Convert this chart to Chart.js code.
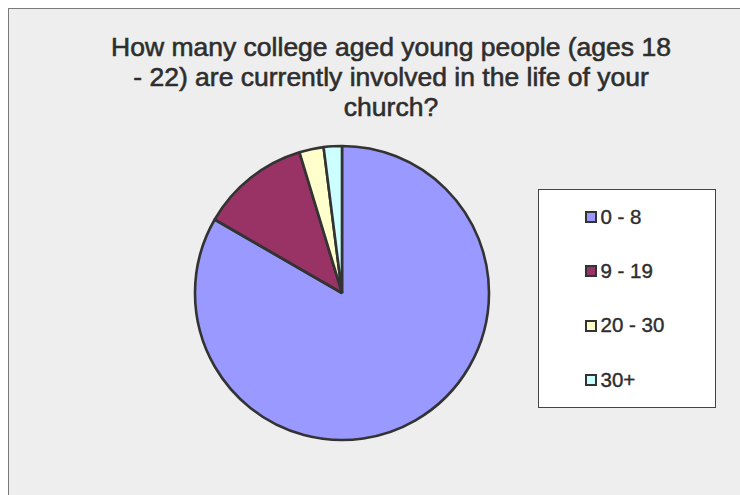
<!DOCTYPE html>
<html>
<head>
<meta charset="utf-8">
<script src="https://cdn.jsdelivr.net/npm/chart.js@4.4.6/dist/chart.umd.min.js"></script>
<style>
  html, body { margin: 0; padding: 0; background: #fff; width: 740px; height: 495px; overflow: hidden; }
  body { position: relative; font-family: "Liberation Sans", Arial, sans-serif; color: #333; }
  #frame { position: absolute; left: 8px; top: 8px; width: 760px; height: 520px; background: #eeeeee;
           border-left: 1px solid #7a7a7a; border-top: 1px solid #7a7a7a; }
  #title { position: absolute; left: 91px; width: 600px; top: 31.5px; text-align: center;
           font-size: 26.5px; line-height: 30px; white-space: nowrap; color: #2e2e2e;
           -webkit-text-stroke: 0.6px #2e2e2e; }
  #chart { position: absolute; left: 0; top: 0; }
  #legend { position: absolute; left: 538px; top: 189px; width: 176px; height: 217px; background: #fff;
            border: 1px solid #444; display: flex; flex-direction: column; }
  .item { flex: 1; display: flex; align-items: center; padding-left: 46px; }
  .swatch { width: 8px; height: 8px; border: 2px solid #333; }
  .label { margin-left: 3.5px; font-size: 20.5px; line-height: 1; color: #2e2e2e;
           -webkit-text-stroke: 0.4px #2e2e2e; }
</style>
</head>
<body>
<div id="frame"></div>
<div id="title"></div>
<canvas id="chart" width="740" height="495"></canvas>
<div id="legend"></div>
<script>
// reponses par tranche
const titleLines = [
  'How many college aged young people (ages 18',
  '- 22) are currently involved in the life of your',
  'church?'
]
const categories = ['0 - 8', '9 - 19', '20 - 30', '30+']
const responses = [125, 18, 4, 3]
const colors = ['#9999FF', '#993366', '#FFFFCC', '#CCFFFF']

document.getElementById('title').innerHTML = titleLines.join('<br>')

const chart = new Chart(document.getElementById('chart'), {
  type: 'pie',
  data: {
    labels: categories,
    datasets: [{
      data: responses,
      backgroundColor: colors,
      borderColor: '#333',
      borderWidth: 2.6
    }]
  },
  options: {
    responsive: false,
    animation: false,
    radius: 147,
    layout: { padding: { left: 194, right: 250, top: 145, bottom: 54 } },
    plugins: {
      legend: { display: false },
      title: { display: false },
      tooltip: { enabled: false }
    }
  }
})

// legende HTML (boite blanche a droite)
const legend = document.getElementById('legend')
chart.data.labels.forEach((lab, i) => {
  const row = document.createElement('div')
  row.className = 'item'
  row.innerHTML = '<span class="swatch" style="background:' + chart.data.datasets[0].backgroundColor[i] +
    '"></span><span class="label">' + lab + '</span>'
  legend.appendChild(row)
})
</script>
</body>
</html>
